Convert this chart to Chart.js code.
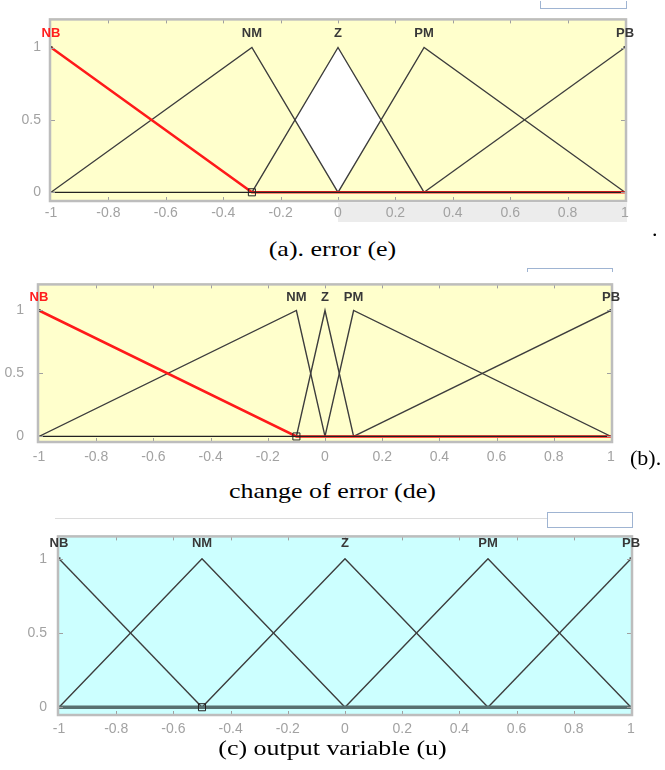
<!DOCTYPE html>
<html>
<head>
<meta charset="utf-8">
<title>Membership functions</title>
<script src="https://cdn.jsdelivr.net/npm/chart.js@4.4.0/dist/chart.umd.min.js"></script>
<style>
    body { margin: 0; background: #fff; }
    #page { position: relative; width: 665px; height: 770px; overflow: hidden; background: #fff; }
    canvas { position: absolute; left: 0; }
    .cap { position: absolute; left: 0; width: 665px; text-align: center; font-family: 'Liberation Serif', 'Times New Roman', serif; font-size: 22px; line-height: 24px; color: #000; transform: scaleX(1.18); }
    .side { position: absolute; font-family: 'Liberation Serif', 'Times New Roman', serif; font-size: 22px; line-height: 24px; color: #000; }
    .band { position: absolute; background: #ececec; }
    .mark { position: absolute; border: 1px solid #9fb4d2; }
</style>
</head>
<body>
<div id="page">
    <div class="band" style="left:338px; top:203px; width:289px; height:19px;"></div>
    <canvas id="chartE" width="665" height="225" style="top:0px;"></canvas>
    <div class="mark" style="left:540px; top:1px; width:85px; height:7px; border-top:none;"></div>
    <div class="cap" style="top:237px;">(a). error (e)</div>
    <div class="side" style="left:652px; top:217px;">.</div>

    <canvas id="chartDE" width="665" height="210" style="top:260px;"></canvas>
    <div class="mark" style="left:527px; top:268px; width:84px; height:3px; border-bottom:none; background:#fff;"></div>
    <div class="side" style="left:630px; top:446px;">(b).</div>
    <div class="cap" style="top:479px;">change of error (de)</div>

    <div style="position:absolute; left:55px; top:518px; width:492px; height:1px; background:#dcdcdc;"></div>
    <canvas id="chartU" width="665" height="225" style="top:515px;"></canvas>
    <div class="mark" style="left:547px; top:512px; width:84px; height:14px; background:#fff;"></div>
    <div class="cap" style="top:736px;">(c) output variable (u)</div>
</div>

<script>
    // tick values shared by the three plots
    var xTicks = [-1, -0.8, -0.6, -0.4, -0.2, 0, 0.2, 0.4, 0.6, 0.8, 1];
    var xTickLabels = ['-1', '-0.8', '-0.6', '-0.4', '-0.2', '0', '0.2', '0.4', '0.6', '0.8', '1'];
    var yTicks = [0, 0.5, 1];
    var yTickLabels = ['0', '0.5', '1'];
    var mfNames = ['NB', 'NM', 'Z', 'PM', 'PB'];
    var baseLine = [[-1, 0], [1, 0]];
    var endPoints = [[-1, 1], [1, 1]];

    // (a) error (e)
    var ePeaks = [-1, -0.3, 0, 0.3, 1];
    var eNB = [[-1, 1], [-0.3, 0], [1, 0]];
    var eNM = [[-1, 0], [-0.3, 1], [0, 0]];
    var eZ = [[-0.3, 0], [0, 1], [0.3, 0]];
    var ePM = [[0, 0], [0.3, 1], [1, 0]];
    var ePB = [[0.3, 0], [1, 1]];
    var eHoleTop = [[-0.15, 0.5], [0, 1], [0.15, 0.5]];
    var eHoleBottom = [[-0.15, 0.5], [0, 0], [0.15, 0.5]];
    var eSelected = [[-0.3, 0]];

    // (b) change of error (de)
    var dePeaks = [-1, -0.1, 0, 0.1, 1];
    var deNB = [[-1, 1], [-0.1, 0], [1, 0]];
    var deNM = [[-1, 0], [-0.1, 1], [0, 0]];
    var deZ = [[-0.1, 0], [0, 1], [0.1, 0]];
    var dePM = [[0, 0], [0.1, 1], [1, 0]];
    var dePB = [[0.1, 0], [1, 1]];
    var deSelected = [[-0.1, 0]];

    // (c) output variable (u)
    var uPeaks = [-1, -0.5, 0, 0.5, 1];
    var uNB = [[-1, 1], [-0.5, 0]];
    var uNM = [[-1, 0], [-0.5, 1], [0, 0]];
    var uZ = [[-0.5, 0], [0, 1], [0.5, 0]];
    var uPM = [[0, 0], [0.5, 1], [1, 0]];
    var uPB = [[0.5, 0], [1, 1]];
    var uSelected = [[-0.5, 0]];

    var labelFont = '"Liberation Sans", Arial, sans-serif';

    function pts(a) {
        return a.map(function (p) { return { x: p[0], y: p[1] }; });
    }

    function mfChart(id, o) {
        var ds = [];
        // lower order is drawn on top
        ds.push({ data: pts(o.selected), showLine: false, pointStyle: 'rect', pointRadius: 5,
            pointBorderColor: '#222', pointBackgroundColor: 'rgba(0,0,0,0)', pointBorderWidth: 1, order: 0 });
        ds.push({ data: pts(endPoints), showLine: false, pointStyle: 'rect', pointRadius: 2,
            pointBorderColor: '#333', pointBackgroundColor: '#333', pointBorderWidth: 0, order: 0 });
        ds.push({ data: pts(baseLine), borderColor: o.baseColor, borderWidth: o.baseWidth, order: 1 });
        ds.push({ data: pts(o.sets[0]), borderColor: o.nbColor, borderWidth: o.nbWidth, order: 2 });
        for (var i = 1; i < o.sets.length; i++) {
            ds.push({ data: pts(o.sets[i]), borderColor: '#3d3d3d', borderWidth: 1.4, order: 3 });
        }
        if (o.holeTop) {
            ds.push({ data: pts(o.holeTop), borderWidth: 0, borderColor: 'rgba(0,0,0,0)', backgroundColor: '#ffffff', fill: '+1', order: 9 });
            ds.push({ data: pts(o.holeBottom), borderWidth: 0, borderColor: 'rgba(0,0,0,0)', order: 9 });
        }

        var mfPlugin = {
            id: 'mf_' + id,
            beforeDraw: function (chart) {
                var a = chart.chartArea, ctx = chart.ctx;
                ctx.save();
                ctx.fillStyle = o.bg;
                ctx.fillRect(a.left - 1, a.top, a.right - a.left + 2, a.bottom - a.top);
                ctx.restore();
            },
            afterDraw: function (chart) {
                var a = chart.chartArea, ctx = chart.ctx;
                var xs = chart.scales.x, ys = chart.scales.y;
                ctx.save();
                // inward tick marks
                ctx.strokeStyle = '#a0a0a0';
                ctx.lineWidth = 1;
                ctx.beginPath();
                xs.ticks.forEach(function (t, k) {
                    if (k === 0 || k === xs.ticks.length - 1) return;
                    var px = Math.round(xs.getPixelForValue(t.value)) + 0.5;
                    ctx.moveTo(px, a.top + 1); ctx.lineTo(px, a.top + 5);
                    ctx.moveTo(px, a.bottom - 1); ctx.lineTo(px, a.bottom - 5);
                });
                ys.ticks.forEach(function (t) {
                    var py = Math.round(ys.getPixelForValue(t.value)) + 0.5;
                    ctx.moveTo(a.left, py); ctx.lineTo(a.left + 4, py);
                    ctx.moveTo(a.right, py); ctx.lineTo(a.right - 4, py);
                });
                ctx.stroke();
                // frame
                ctx.strokeStyle = '#bdbdbd';
                ctx.lineWidth = 2.5;
                ctx.strokeRect(a.left - 1, a.top + 1, a.right - a.left + 2, a.bottom - a.top - 2);
                // membership function names
                ctx.textAlign = 'center';
                ctx.textBaseline = 'middle';
                mfNames.forEach(function (n, k) {
                    var px = xs.getPixelForValue(o.peaks[k]);
                    var py = ys.getPixelForValue(1.1);
                    ctx.font = 'bold 13px ' + labelFont;
                    ctx.fillStyle = (k === 0 && o.nbRed) ? '#ff1e1e' : '#383838';
                    ctx.fillText(n, px, py);
                });
                ctx.restore();
            }
        };

        return new Chart(document.getElementById(id), {
            type: 'line',
            data: { datasets: ds },
            options: {
                responsive: false,
                animation: false,
                events: [],
                layout: { padding: { top: o.padTop, right: o.padRight, left: 0, bottom: 0 } },
                elements: {
                    point: { radius: 0 },
                    line: { tension: 0, fill: false }
                },
                plugins: { legend: { display: false }, tooltip: { enabled: false } },
                scales: {
                    x: {
                        type: 'linear', min: -1, max: 1,
                        afterBuildTicks: function (s) { s.ticks = xTicks.map(function (v) { return { value: v }; }); },
                        afterFit: function (s) { s.height = o.xHeight; },
                        grid: { display: false, drawTicks: false },
                        border: { display: false },
                        ticks: {
                            autoSkip: false, maxRotation: 0, padding: o.xPad, color: '#a2a2a2',
                            font: { size: 14, family: labelFont },
                            callback: function (v, i) { return xTickLabels[i]; }
                        }
                    },
                    y: {
                        type: 'linear', min: o.yMin, max: o.yMax,
                        afterBuildTicks: function (s) { s.ticks = yTicks.map(function (v) { return { value: v }; }); },
                        afterFit: function (s) { s.width = o.yWidth; },
                        grid: { display: false, drawTicks: false },
                        border: { display: false },
                        ticks: {
                            padding: o.yPad, color: '#a2a2a2',
                            font: { size: 14, family: labelFont },
                            callback: function (v, i) { return yTickLabels[i]; }
                        }
                    }
                }
            },
            plugins: [mfPlugin]
        });
    }

    mfChart('chartE', {
        sets: [eNB, eNM, eZ, ePM, ePB], peaks: ePeaks, selected: eSelected,
        holeTop: eHoleTop, holeBottom: eHoleBottom,
        bg: '#ffffcc', nbColor: '#ff1a1a', nbWidth: 2.6, nbRed: true,
        baseColor: '#222222', baseWidth: 1.2,
        padTop: 13, padRight: 40, yWidth: 51, xHeight: 23, xPad: 3, yPad: 10,
        yMin: -0.067, yMax: 1.201
    });

    mfChart('chartDE', {
        sets: [deNB, deNM, deZ, dePM, dePB], peaks: dePeaks, selected: deSelected,
        bg: '#ffffcc', nbColor: '#ff1a1a', nbWidth: 2.6, nbRed: true,
        baseColor: '#222222', baseWidth: 1.2,
        padTop: 12, padRight: 54, yWidth: 39, xHeight: 27, xPad: 6, yPad: 15,
        yMin: -0.052, yMax: 1.215
    });

    mfChart('chartU', {
        sets: [uNB, uNM, uZ, uPM, uPB], peaks: uPeaks, selected: uSelected,
        bg: '#ccffff', nbColor: '#3d3d3d', nbWidth: 1.4, nbRed: false,
        baseColor: '#587070', baseWidth: 3.5,
        padTop: 15, padRight: 34, yWidth: 59, xHeight: 24, xPad: 5, yPad: 12,
        yMin: -0.059, yMax: 1.157
    });
</script>
</body>
</html>
